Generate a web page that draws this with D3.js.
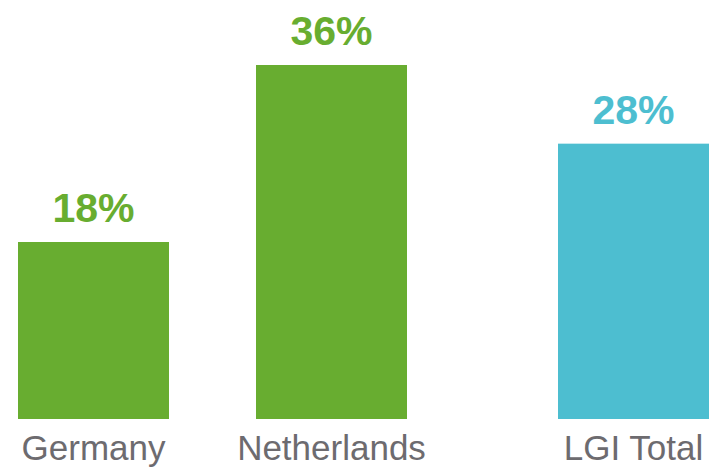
<!DOCTYPE html>
<html>
<head>
<meta charset="utf-8">
<script src="https://cdn.jsdelivr.net/npm/d3@7"></script>
<style>
  body { margin: 0; background: #fff; }
  svg { display: block; }
</style>
</head>
<body>
<div id="chart"></div>
<script>
// Chart data
const categories = ["Germany", "Netherlands", "LGI Total"];
const values = [18, 36, 28];
const valueLabels = ["18%", "36%", "28%"];
const barColors = ["#68ad30", "#68ad30", "#4dbed0"];

// Dimensions
const width = 709;
const height = 469;
const baseline = 419;
const barWidth = 151;

const svg = d3.select("#chart").append("svg")
    .attr("width", width)
    .attr("height", height);

// x position of each bar (the last group sits a bit further out)
const xScale = d3.scaleOrdinal()
    .domain(categories)
    .range([18, 256, 558]);

// y scale: 36% reaches y = 65
const yScale = d3.scaleLinear()
    .domain([0, 36])
    .range([baseline, 65]);

// Bars
svg.selectAll("rect.bar")
    .data(categories)
    .enter().append("rect")
    .attr("class", "bar")
    .attr("x", d => xScale(d))
    .attr("y", (d, i) => yScale(values[i]))
    .attr("width", barWidth)
    .attr("height", (d, i) => baseline - yScale(values[i]))
    .style("fill", (d, i) => barColors[i]);

// Value labels on top
svg.selectAll("text.value")
    .data(categories)
    .enter().append("text")
    .attr("class", "value")
    .attr("x", d => xScale(d) + barWidth / 2)
    .attr("y", (d, i) => yScale(values[i]) - 20)
    .attr("text-anchor", "middle")
    .style("font-family", "'Liberation Sans', Arial, sans-serif")
    .style("font-weight", "bold")
    .style("font-size", "41px")
    .style("fill", (d, i) => barColors[i])
    .text((d, i) => valueLabels[i]);

// Category labels below
svg.selectAll("text.cat")
    .data(categories)
    .enter().append("text")
    .attr("class", "cat")
    .attr("x", d => xScale(d) + barWidth / 2)
    .attr("y", 460)
    .attr("text-anchor", "middle")
    .style("font-family", "'Liberation Sans', Arial, sans-serif")
    .style("font-size", "35px")
    .style("fill", "#6d6b6f")
    .text(d => d);
</script>
</body>
</html>
